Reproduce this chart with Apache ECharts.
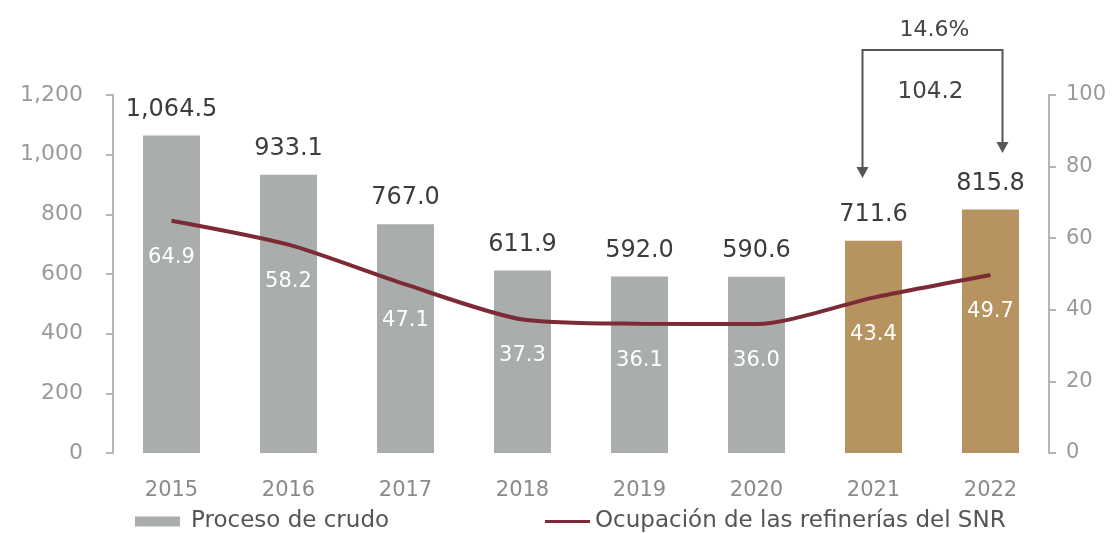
<!DOCTYPE html>
<html>
<head>
<meta charset="utf-8">
<script src="https://cdn.jsdelivr.net/npm/echarts@6/dist/echarts.min.js"></script>
<style>
  html, body { margin: 0; padding: 0; background: #fff; }
  #chart { width: 1118px; height: 533px; }
</style>
</head>
<body>
<div id="chart"></div>
<script>
// Refinery crude processing (thousand barrels per day) and SNR utilisation (%)
const years = ['2015', '2016', '2017', '2018', '2019', '2020', '2021', '2022'];
const crudeProcess = [1064.5, 933.1, 767.0, 611.9, 592.0, 590.6, 711.6, 815.8];
const occupancy = [64.9, 58.2, 47.1, 37.3, 36.1, 36.0, 43.4, 49.7];
const leftTicks = [0, 200, 400, 600, 800, 1000, 1200];
const rightTicks = [0, 20, 40, 60, 80, 100];

const FONT = '"DejaVu Sans", "Noto Sans", sans-serif';
const GREY_BAR = '#a9aeac';
const GOLD_BAR = '#b7935f';
const LINE = '#7c2a35';
const highlightFrom = years.indexOf('2021');

const fmt1 = v => v.toLocaleString('en-US', { minimumFractionDigits: 1, maximumFractionDigits: 1 });

const chart = echarts.init(document.getElementById('chart'));

const option = {
  animation: false,
  backgroundColor: '#ffffff',
  grid: { left: 113, right: 69, top: 95, bottom: 80 },
  legend: [
    {
      left: 130, top: 505,
      itemWidth: 45, itemHeight: 10, itemGap: 14,
      textStyle: { fontFamily: FONT, fontSize: 23, color: '#555', padding: [0, 0, 0, 6] },
      data: [{ name: 'Proceso de crudo', icon: 'rect', itemStyle: { color: GREY_BAR } }]
    },
    {
      left: 540, top: 505,
      itemWidth: 45, itemHeight: 10, itemGap: 8,
      textStyle: { fontFamily: FONT, fontSize: 23, color: '#555' },
      data: [{ name: 'Ocupación de las refinerías del SNR', icon: 'path://M0,0 L45,0 L45,3 L0,3 Z', itemStyle: { color: LINE } }]
    }
  ],
  xAxis: {
    type: 'category',
    data: years,
    axisLine: { show: false },
    axisTick: { show: false },
    axisLabel: { fontFamily: FONT, fontSize: 21, color: '#8a8a8a', margin: 27 }
  },
  yAxis: [
    {
      type: 'value',
      min: leftTicks[0], max: leftTicks[leftTicks.length - 1],
      interval: leftTicks[1] - leftTicks[0],
      axisLine: { show: true, lineStyle: { color: '#b5b5b5', width: 2 } },
      axisTick: { show: true, length: 7, lineStyle: { color: '#b5b5b5', width: 2 } },
      splitLine: { show: false },
      axisLabel: {
        fontFamily: FONT, fontSize: 22, color: '#9a9a9a', margin: 30,
        formatter: v => v.toLocaleString('en-US')
      }
    },
    {
      type: 'value',
      min: rightTicks[0], max: rightTicks[rightTicks.length - 1],
      interval: rightTicks[1] - rightTicks[0],
      position: 'right',
      axisLine: { show: true, lineStyle: { color: '#b5b5b5', width: 2 } },
      axisTick: { show: true, length: 7, lineStyle: { color: '#b5b5b5', width: 2 } },
      splitLine: { show: false },
      axisLabel: { fontFamily: FONT, fontSize: 21, color: '#9a9a9a', margin: 17 }
    }
  ],
  series: [
    {
      name: 'Proceso de crudo',
      type: 'bar',
      barWidth: 57,
      itemStyle: { color: GREY_BAR },
      data: crudeProcess.map((v, i) => ({
        value: v,
        itemStyle: { color: i >= highlightFrom ? GOLD_BAR : GREY_BAR }
      })),
      label: {
        show: true, position: 'top', distance: 14,
        fontFamily: FONT, fontSize: 24, color: '#3c3c3c',
        formatter: p => fmt1(p.value)
      },
      z: 2
    },
    {
      name: 'Ocupación de las refinerías del SNR',
      type: 'line',
      yAxisIndex: 1,
      data: occupancy,
      smooth: 0.25,
      symbol: 'circle',
      symbolSize: 0.1,
      showSymbol: true,
      lineStyle: { color: LINE, width: 4 },
      itemStyle: { color: LINE },
      label: {
        show: true, position: 'bottom', distance: 26,
        fontFamily: FONT, fontSize: 21, color: '#ffffff',
        formatter: p => p.value.toFixed(1)
      },
      z: 3
    }
  ]
};

chart.setOption(option);

// Change bracket between the last two years
const iA = years.length - 2, iB = years.length - 1;
const diff = crudeProcess[iB] - crudeProcess[iA];
const pct = diff / crudeProcess[iA] * 100;
const xA = chart.convertToPixel({ xAxisIndex: 0 }, years[iA]) - 11;
const xB = chart.convertToPixel({ xAxisIndex: 0 }, years[iB]) + 12;
const topY = 50, tipA = 178, tipB = 153;
const stroke = { stroke: '#555', lineWidth: 2 };
const arrowHead = (x, y) => ({
  type: 'polygon',
  shape: { points: [[x - 6, y - 11], [x + 6, y - 11], [x, y]] },
  style: { fill: '#555' }
});

chart.setOption({
  graphic: [
    { type: 'polyline', shape: { points: [[xA, tipA - 10], [xA, topY], [xB, topY], [xB, tipB - 10]] }, style: Object.assign({ fill: null }, stroke) },
    arrowHead(xA, tipA),
    arrowHead(xB, tipB),
    {
      type: 'text', x: (xA + xB) / 2 + 2, y: 30,
      style: { text: pct.toFixed(1) + '%', fontFamily: FONT, fontSize: 22, fill: '#444', align: 'center', verticalAlign: 'middle' }
    },
    {
      type: 'text', x: (xA + xB) / 2 - 2, y: 92,
      style: { text: fmt1(diff), fontFamily: FONT, fontSize: 23, fill: '#444', align: 'center', verticalAlign: 'middle' }
    }
  ]
});
</script>
</body>
</html>
